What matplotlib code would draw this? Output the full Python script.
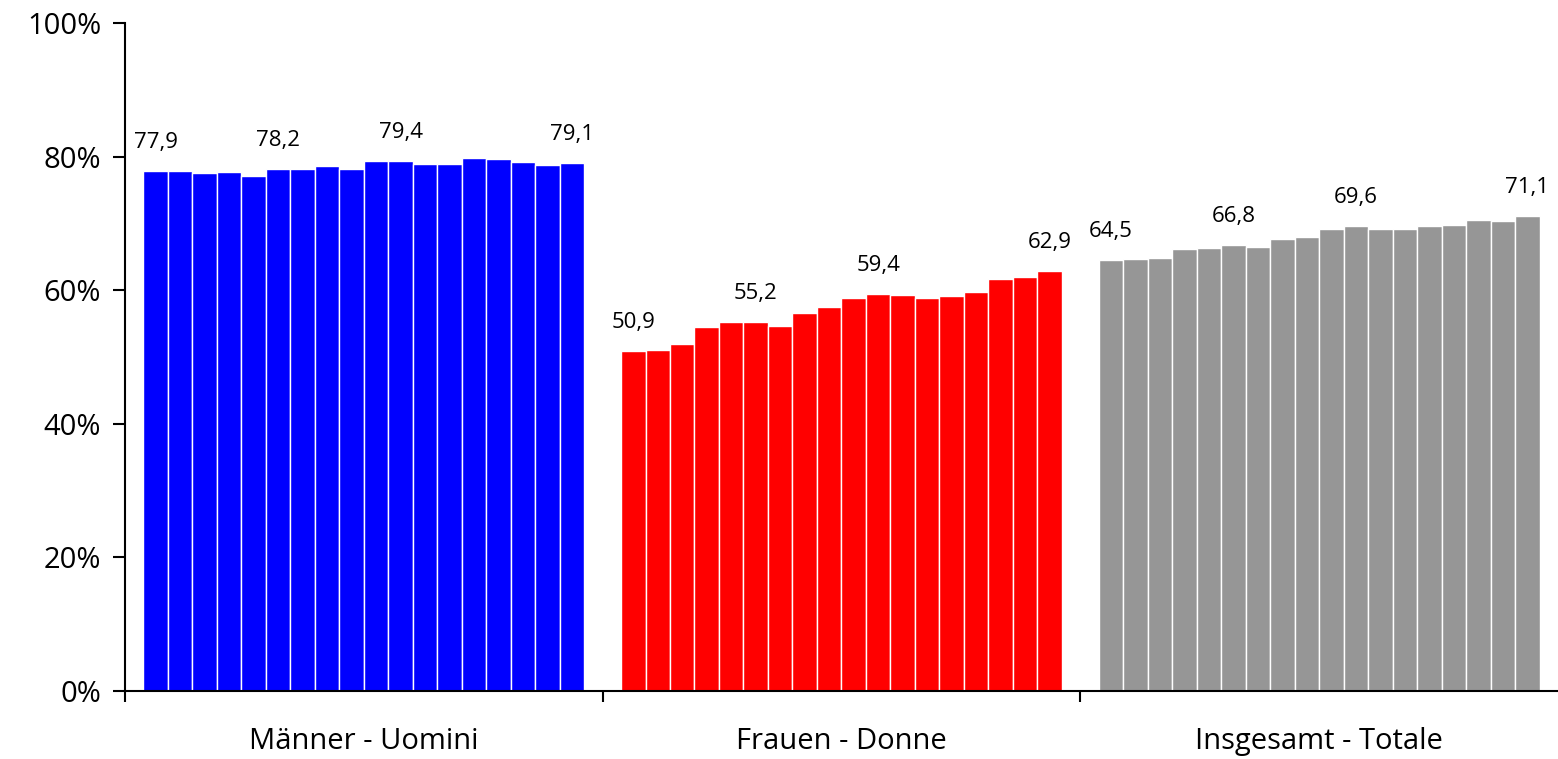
import numpy as np
import matplotlib
matplotlib.use("Agg")
import matplotlib.pyplot as plt
from matplotlib.ticker import FixedLocator

# -----------------------------
# Data
# -----------------------------
groups = ["Männer - Uomini", "Frauen - Donne", "Insgesamt - Totale"]
colors = ["#0000FF", "#FF0000", "#969696"]

men = [77.9, 77.8, 77.6, 77.7, 77.1, 78.2, 78.1, 78.6, 78.2,
       79.4, 79.4, 78.9, 78.9, 79.8, 79.6, 79.2, 78.8, 79.1]
women = [50.9, 51.0, 51.9, 54.5, 55.2, 55.2, 54.7, 56.6, 57.5,
         58.8, 59.4, 59.3, 58.9, 59.1, 59.8, 61.7, 62.0, 62.9]
total = [64.5, 64.6, 64.8, 66.2, 66.3, 66.8, 66.5, 67.6, 67.9,
         69.2, 69.6, 69.2, 69.1, 69.6, 69.8, 70.5, 70.4, 71.1]
series = [men, women, total]

# bars that carry a value label (0-based index)
labelled = [0, 5, 10, 17]

# -----------------------------
# Plot
# -----------------------------
plt.rcParams["font.family"] = ["Open Sans", "DejaVu Sans"]

fig = plt.figure(figsize=(15.58, 7.59), dpi=100)
ax = fig.add_axes([0.0802, 0.0896, 0.9198, 0.8801])

n = len(men)
gw = 19.5          # group width in bar units
side = (gw - n) / 2

for g, vals in enumerate(series):
    x = g * gw + side + np.arange(n) + 0.5
    ax.bar(x, vals, width=1.0, color=colors[g], edgecolor="white",
           linewidth=1.0)
    for i in labelled:
        label = f"{vals[i]:.1f}".replace(".", ",")
        ax.annotate(label, (x[i], vals[i]), xytext=(0, 13),
                    textcoords="offset points", ha="center", va="bottom",
                    fontsize=16)

ax.set_xlim(0, 3 * gw)
ax.set_ylim(0, 100)

ax.set_yticks(np.arange(0, 101, 20))
ax.set_yticklabels([f"{v}%" for v in range(0, 101, 20)])
ax.tick_params(axis="y", length=9, width=1.5, pad=8, labelsize=21)

ax.set_xticks([gw * (g + 0.5) for g in range(3)])
ax.set_xticklabels(groups)
ax.tick_params(axis="x", which="major", length=0, pad=26, labelsize=21)
ax.xaxis.set_minor_locator(FixedLocator([0, gw, 2 * gw]))
ax.tick_params(axis="x", which="minor", length=8, width=1.5)

for s in ["top", "right"]:
    ax.spines[s].set_visible(False)
ax.spines["left"].set_linewidth(1.5)
ax.spines["bottom"].set_linewidth(1.5)
ax.spines["left"].set_bounds(0, 100)

plt.savefig("out.png", dpi=100)
